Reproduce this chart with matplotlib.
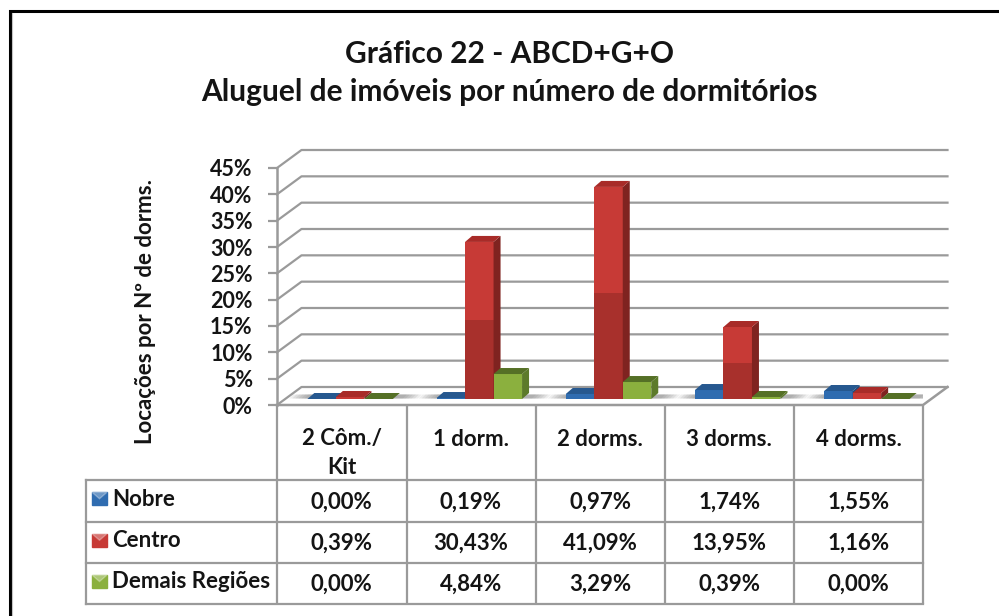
import matplotlib
matplotlib.use('Agg')
import matplotlib.pyplot as plt
from matplotlib.patches import Polygon, Rectangle

plt.rcParams['font.family'] = ['Lato', 'DejaVu Sans']

categorias = ['2 Côm./\nKit', '1 dorm.', '2 dorms.', '3 dorms.', '4 dorms.']
series = ['Nobre', 'Centro', 'Demais Regiões']
nobre = [0.00, 0.19, 0.97, 1.74, 1.55]
centro = [0.39, 30.43, 41.09, 13.95, 1.16]
demais = [0.00, 4.84, 3.29, 0.39, 0.00]
ticks = [0, 5, 10, 15, 20, 25, 30, 35, 40, 45]
titulo = 'Gráfico 22 - ABCD+G+O\nAluguel de imóveis por número de dormitórios'
ylabel = 'Locações por Nº de dorms.'

valores = [nobre, centro, demais]
frente = ['#2f6cb0', '#c73a36', '#8bb03e']
frente_esc = ['#2a62a0', '#a8302c', '#7fa238']
lado = ['#1f4a7c', '#7f2320', '#5c7a2a']
topo = ['#26588f', '#a82b28', '#557026']
cinza = '#9a9a9a'
preto = '#141414'

W, H = 999, 616
fig = plt.figure(figsize=(W / 100, H / 100), dpi=100)

# fundo em pixels: moldura e tabela
bg = fig.add_axes([0, 0, 1, 1])
bg.set_xlim(0, W)
bg.set_ylim(H, 0)
bg.axis('off')
bg.plot([9.5, 9.5, W], [H, 11, 11], color='black', lw=2.2, solid_joinstyle='miter')
bg.plot([11.5, 11.5], [H, 13], color='#c4c4c4', lw=0.8)

colx = [277, 406.5, 535.5, 664.5, 794, 923]
liny = [480, 521.5, 563, 604]
for x in colx:
    bg.plot([x, x], [405, 604], color=cinza, lw=1.6, solid_capstyle='butt')
bg.plot([86, 86], [480, 604], color=cinza, lw=1.6)
for y in liny:
    bg.plot([86, 923], [y, y], color=cinza, lw=1.6)

bg.text(509.5, 73, titulo, ha='center', va='center', fontsize=21.5, fontweight='bold',
        linespacing=1.42, color=preto)
bg.text(145, 311, ylabel, rotation=90, ha='center', va='center', fontsize=16,
        fontweight='bold', color=preto)

for i, c in enumerate(categorias):
    xc = (colx[i] + colx[i + 1]) / 2
    bg.text(xc, 453 if '\n' in c else 439, c, ha='center', va='center', fontsize=16,
            fontweight='bold', linespacing=1.45, color=preto)

for s, nome in enumerate(series):
    yc = (liny[s] + liny[s + 1]) / 2
    bg.add_patch(Rectangle((92, yc - 8.5), 15, 13, color=frente[s]))
    bg.add_patch(Polygon([(92, yc - 8.5), (107, yc - 8.5), (99.5, yc - 2)], color='#ffffff', alpha=0.3))
    bg.text(112, yc - 1.5, nome, ha='left', va='center', fontsize=16, fontweight='bold', color=preto)
    for i, v in enumerate(valores[s]):
        xc = (colx[i] + colx[i + 1]) / 2
        txt = f'{v:.2f}%'.replace('.', ',')
        bg.text(xc, yc + 1, txt, ha='center', va='center', fontsize=16, fontweight='bold', color=preto)

# grafico: eixo na parede da frente
ax = fig.add_axes([277 / W, 1 - 405 / H, (923 - 277) / W, (405 - 168) / H])
ax.set_xlim(-0.5, 4.5)
ax.set_ylim(0, 45)
ax.patch.set_alpha(0)
for s in ax.spines.values():
    s.set_visible(False)
ax.set_xticks([])
ax.set_yticks(ticks)
ax.set_yticklabels([f'{t}%' for t in ticks], fontsize=15.5, fontweight='bold', color=preto)
ax.tick_params(axis='y', length=6.5, width=1.6, color=cinza, pad=11)

# profundidade em unidades de dados
px_x = 5 / (923 - 277)
px_y = 45 / (405 - 168)
dx_fundo, dy_fundo = 24.5 * px_x, 18 * px_y
for t in ticks:
    ax.plot([-0.5, -0.5 + dx_fundo, 4.5 + dx_fundo], [t, t + dy_fundo, t + dy_fundo],
            color=cinza, lw=1.6, clip_on=False, zorder=1)
ax.plot([-0.5, -0.5], [0, 45], color=cinza, lw=1.8, clip_on=False, zorder=1)
ax.plot([-0.5, 4.5, 4.5 + dx_fundo], [0, 0, dy_fundo], color=cinza, lw=1.8, clip_on=False, zorder=2)

largura = 28.5 * px_x
piso = 6 * px_y
esc = 0.98
dx, dy = 7 * px_x, 6 * px_y
desloc = 8.5 * px_x

# sombra no chao
for i in range(len(categorias)):
    for k in range(6):
        m = (6 - k) * 3 * px_x
        x0 = i + desloc - 1.5 * largura - m
        x1 = i + desloc + 1.5 * largura + dx + m
        ax.add_patch(Polygon([(x0, piso + 0.5 * px_y), (x1, piso + 0.5 * px_y),
                              (x1 + 4 * px_x, piso + 4.5 * px_y), (x0 + 4 * px_x, piso + 4.5 * px_y)],
                             facecolor='#707070', edgecolor='none', alpha=0.12, zorder=2.5))

for s in range(3):
    for i, v in enumerate(valores[s]):
        x0 = i + desloc + (s - 1.5) * largura
        x1 = x0 + largura
        h = v * esc
        z = 3 + s + i * 0.01
        if v > 10:
            # metade de baixo mais escura, como no original
            meio = piso + h / 2
            ax.bar(x0, h / 2, largura, bottom=piso, align='edge', color=frente_esc[s], zorder=z)
            ax.bar(x0, h / 2, largura, bottom=meio, align='edge', color=frente[s], zorder=z)
        else:
            ax.bar(x0, h, largura, bottom=piso, align='edge', color=frente[s], zorder=z)
        ax.add_patch(Polygon([(x1, piso), (x1 + dx, piso + dy), (x1 + dx, piso + h + dy), (x1, piso + h)],
                             facecolor=lado[s], edgecolor='none', zorder=z))
        ax.add_patch(Polygon([(x0, piso + h), (x1, piso + h), (x1 + dx, piso + h + dy), (x0 + dx, piso + h + dy)],
                             facecolor=topo[s], edgecolor='none', zorder=z))

fig.savefig('out.png', dpi=100)
